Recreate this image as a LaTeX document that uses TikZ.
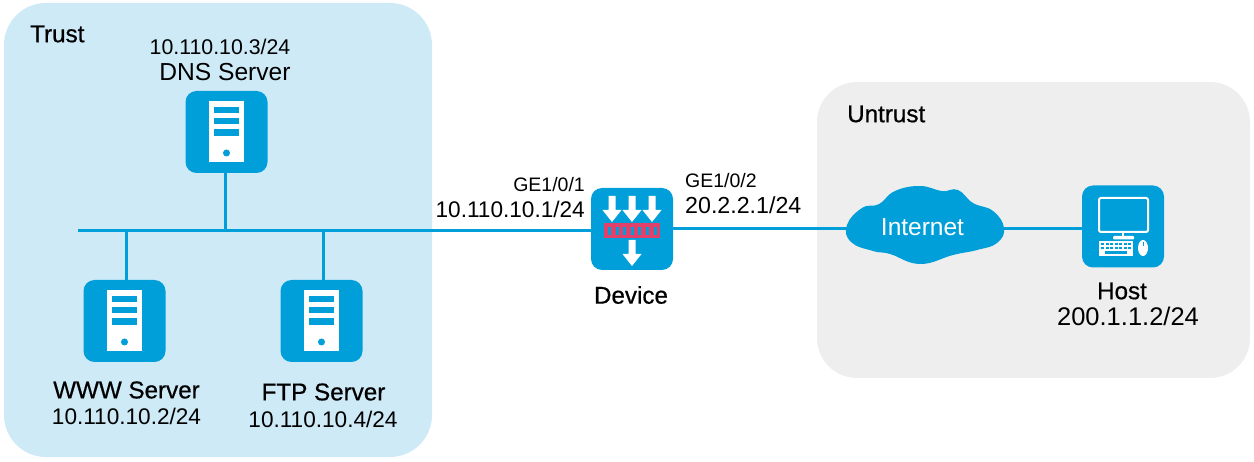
\documentclass[tikz,border=0pt]{standalone}
\usepackage{fontspec}
\setmainfont{Liberation Sans}
\newfontfamily\namefont[FakeBold=0.6]{Liberation Sans}
\usetikzlibrary{positioning}
\definecolor{iconblue}{HTML}{009FD9}
\definecolor{trustblue}{HTML}{CDEAF6}
\definecolor{untrustgray}{HTML}{EEEEEE}
\definecolor{slotred}{HTML}{E0406A}
\tikzset{
  icon/.style={fill=iconblue,rounded corners=11pt,minimum size=82pt,inner sep=0pt,outer sep=0pt},
  link/.style={draw=iconblue,line width=3pt},
  addr/.style={font=\fontsize{#1}{24}\selectfont,inner sep=0pt,align=center},
  addr/.default=22.6,
  port/.style={font=\fontsize{19.5}{22}\selectfont,inner sep=0pt},
  title/.style={font=\namefont\fontsize{24.2}{24}\selectfont,inner sep=0pt},
  downarrow/.style={fill=white,draw=none}
}
\newcommand{\servericon}[1]{
  \begin{scope}[shift={(#1)}]
    \fill[white] (-17.5,-30.5) rectangle (17.5,30.5);
    \fill[iconblue] (-12.5,-25) rectangle (12.5,-19);
    \fill[iconblue] (-12.5,-14) rectangle (12.5,-8);
    \fill[iconblue] (-12.5,-3) rectangle (12.5,4);
    \fill[iconblue] (0,21) circle (3.5);
  \end{scope}
}
\newcommand{\arrowicon}[2]{
  \fill[downarrow] (#1-3.5,#2) -- (#1+3.5,#2) -- (#1+3.5,#2+14) -- (#1+9.5,#2+14)
    -- (#1,#2+26) -- (#1-9.5,#2+14) -- (#1-3.5,#2+14) -- cycle;
}
\begin{document}
\begin{tikzpicture}[x=1pt,y=-1pt]
  \useasboundingbox (0,0) rectangle (1254,462);
  \fill[trustblue,rounded corners=42pt] (4,3) rectangle (432,457);
  \fill[untrustgray,rounded corners=40pt] (817,82) rectangle (1250,378);

  \coordinate (busl) at (78,231);
  \coordinate (dnsdrop) at (225,231);
  \coordinate (wwwdrop) at (126,231);
  \coordinate (ftpdrop) at (323,231);
  \coordinate (wanlink) at (673,228.5);
  \node[icon] (dns) at (226.5,132) {};
  \node[icon] (www) at (124.5,321) {};
  \node[icon] (ftp) at (321.5,321) {};
  \node[icon] (device) at (632,229) {};
  \node[icon] (host) at (1123,226.5) {};

  \draw[link] (busl) -- (busl -| device.west);
  \draw[link] (dnsdrop) -- (dnsdrop |- dns.south);
  \draw[link] (wwwdrop) -- (wwwdrop |- www.north);
  \draw[link] (ftpdrop) -- (ftpdrop |- ftp.north);
  \draw[link] (wanlink) -- (wanlink -| host.west);

  \fill[iconblue] plot[smooth cycle,tension=0.75] coordinates {(847,225) (862,208) (879,204)
    (895,191) (920,186) (942,191) (958,190) (973,203) (993,211) (1004,228) (997,243)
    (977,250) (953,255) (920,264) (890,254) (873,251) (851,242)};
  \node[addr=24.5,text=white] (internet) at (922.5,227) {Internet};

  \servericon{dns}
  \servericon{www}
  \servericon{ftp}

  \arrowicon{612}{196}
  \arrowicon{632}{196}
  \arrowicon{652}{196}
  \fill[slotred] (604,223) rectangle (660,238);
  \foreach \x in {608,615.6,623.2,630.8,638.4,646,653.6}
    \fill[iconblue] (\x,227) rectangle +(3,8);
  \arrowicon{632}{240}

  \draw[white,line width=2pt,rounded corners=2pt] (1099,198) rectangle (1148,232);
  \fill[white] (1122,233) rectangle (1124,236);
  \fill[white,rounded corners=1pt] (1113,236) rectangle (1134,239.5);
  \fill[white] (1099,241) rectangle (1133,256);
  \foreach \x in {1101,1105.5,...,1129}
    \foreach \y in {243,247}
      \fill[iconblue] (\x,\y) rectangle +(3,2.5);
  \fill[iconblue] (1105,251.5) rectangle (1127,254);
  \fill[white] (1143,248) ellipse (5 and 8);
  \fill[iconblue] (1142.5,242) rectangle +(1,4);

  \node[title,anchor=west] (trust) at (30,34) {Trust};
  \node[title,anchor=west] (untrust) at (847,114) {Untrust};
  \node[addr=21.3] (dnsip) at (220,47) {10.110.10.3/24};
  \node[addr=24.6] (dnsname) at (225,72) {DNS Server};
  \node[title] (wwwname) at (126.5,390) {WWW Server};
  \node[addr] (wwwip) at (126.5,416) {10.110.10.2/24};
  \node[title] (ftpname) at (323.5,392) {FTP Server};
  \node[addr] (ftpip) at (323,419) {10.110.10.4/24};
  \node[port,anchor=east] (ge1) at (585,185) {GE1/0/1};
  \node[addr,anchor=east] (ge1ip) at (585,209) {10.110.10.1/24};
  \node[port,anchor=west] (ge2) at (685,181) {GE1/0/2};
  \node[addr=23.2,anchor=west] (ge2ip) at (685,205) {20.2.2.1/24};
  \node[title] (devname) at (631,295) {Device};
  \node[title] (hostname) at (1122,291) {Host};
  \node[addr=25.5] (hostip) at (1128,316) {200.1.1.2/24};
\end{tikzpicture}
\end{document}
